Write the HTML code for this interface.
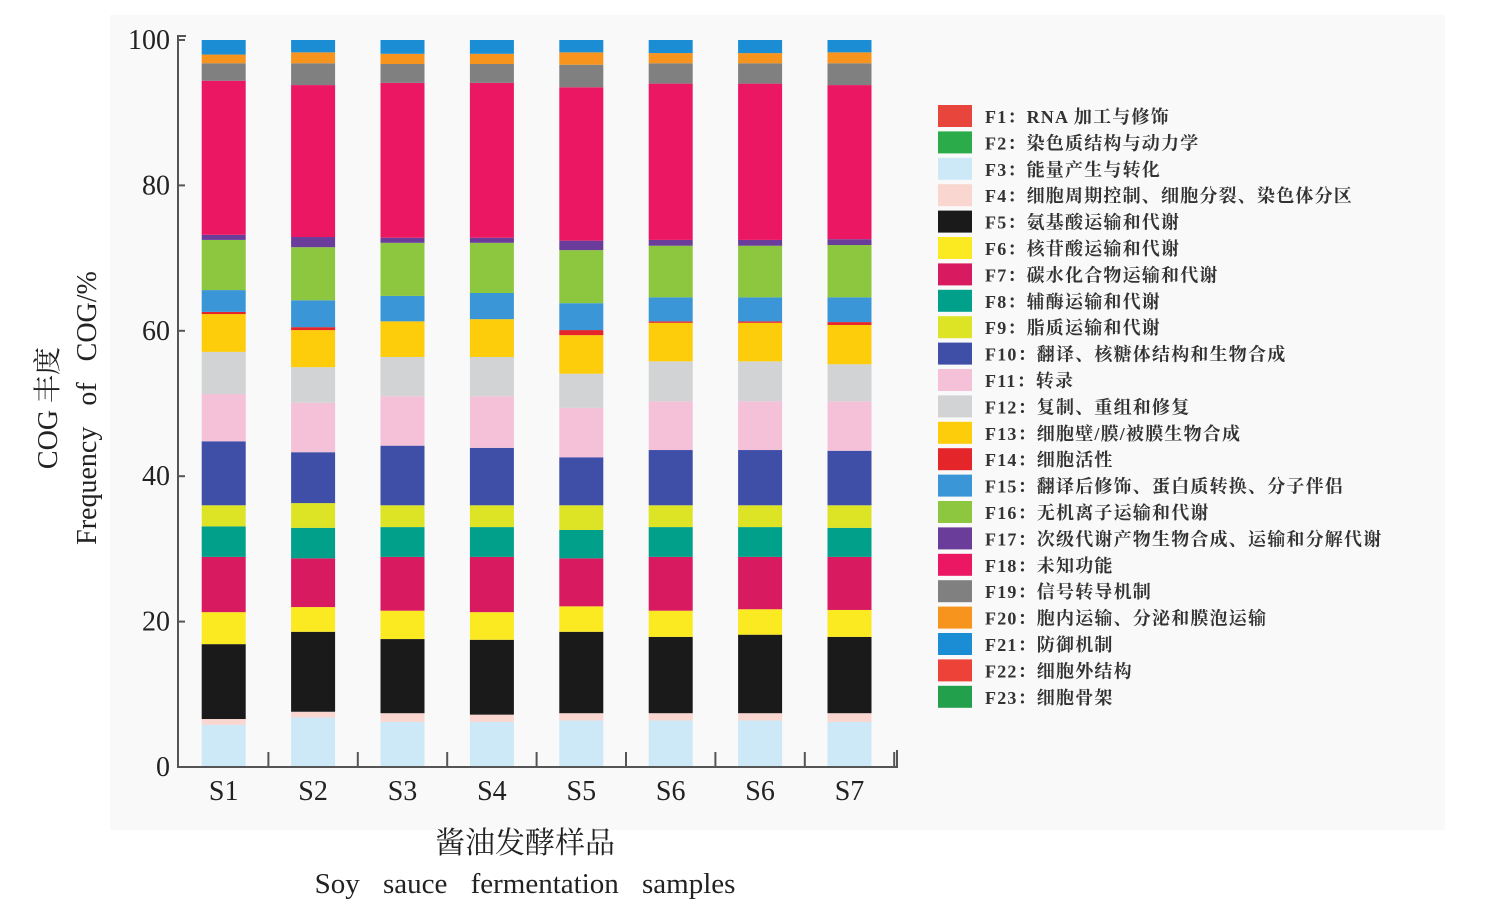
<!DOCTYPE html>
<html><head><meta charset="utf-8"><style>
body{margin:0;background:#fff;}
svg{display:block;font-family:"Liberation Serif","Noto Serif CJK SC",serif;}
</style></head><body>
<svg id="chart" width="1489" height="911" viewBox="0 0 1489 911" xmlns="http://www.w3.org/2000/svg">
<rect x="110" y="15" width="1335" height="815" fill="#f9f9f9"/>
<g id="bars"></g>
<g id="axes"></g>
<g id="legend"></g>
<text x="0" y="0" transform="translate(57,408) rotate(-90)" text-anchor="middle" font-size="28" fill="#222">COG 丰度</text>
<text x="0" y="0" transform="translate(96,408) rotate(-90)" text-anchor="middle" font-size="28" fill="#222" word-spacing="14">Frequency of COG/%</text>
<text x="525" y="853" text-anchor="middle" font-size="30" fill="#222">酱油发酵样品</text>
<text x="525" y="893" text-anchor="middle" font-size="29" fill="#222" word-spacing="16">Soy sauce fermentation samples</text>
</svg>
<script>
const categories = ["S1","S2","S3","S4","S5","S6","S6","S7"];
const seriesNames = ["F1：RNA 加工与修饰","F2：染色质结构与动力学","F3：能量产生与转化","F4：细胞周期控制、细胞分裂、染色体分区","F5：氨基酸运输和代谢","F6：核苷酸运输和代谢","F7：碳水化合物运输和代谢","F8：辅酶运输和代谢","F9：脂质运输和代谢","F10：翻译、核糖体结构和生物合成","F11：转录","F12：复制、重组和修复","F13：细胞壁/膜/被膜生物合成","F14：细胞活性","F15：翻译后修饰、蛋白质转换、分子伴侣","F16：无机离子运输和代谢","F17：次级代谢产物生物合成、运输和分解代谢","F18：未知功能","F19：信号转导机制","F20：胞内运输、分泌和膜泡运输","F21：防御机制","F22：细胞外结构","F23：细胞骨架"];
const F1 = [0,0,0,0,0,0,0,0];
const F2 = [0,0,0,0,0,0,0,0];
const F3 = [5.8,6.8,6.2,6.2,6.4,6.4,6.4,6.2];
const F4 = [0.8,0.8,1.2,1.0,1.0,1.0,1.0,1.2];
const F5 = [10.3,11.0,10.2,10.3,11.2,10.5,10.8,10.5];
const F6 = [4.4,3.4,3.9,3.8,3.5,3.6,3.5,3.7];
const F7 = [7.6,6.7,7.4,7.6,6.6,7.4,7.2,7.3];
const F8 = [4.2,4.2,4.1,4.1,3.9,4.1,4.1,4.0];
const F9 = [2.9,3.4,3.0,3.0,3.4,3.0,3.0,3.1];
const F10 = [8.8,7.0,8.2,7.9,6.6,7.6,7.6,7.5];
const F11 = [6.5,6.8,6.8,7.1,6.8,6.7,6.7,6.8];
const F12 = [5.8,4.9,5.4,5.4,4.7,5.5,5.5,5.1];
const F13 = [5.2,5.1,4.9,5.2,5.3,5.3,5.3,5.4];
const F14 = [0.3,0.4,0,0,0.7,0.2,0.2,0.4];
const F15 = [3.0,3.7,3.5,3.6,3.7,3.3,3.3,3.4];
const F16 = [6.9,7.3,7.3,6.9,7.3,7.1,7.1,7.2];
const F17 = [0.7,1.4,0.7,0.7,1.3,0.8,0.8,0.8];
const F18 = [21.2,20.9,21.3,21.3,21.1,21.5,21.5,21.2];
const F19 = [2.4,3.0,2.6,2.6,3.1,2.8,2.8,3.0];
const F20 = [1.2,1.5,1.4,1.4,1.7,1.4,1.4,1.5];
const F21 = [2.0,1.7,1.9,1.9,1.7,1.8,1.8,1.7];
const F22 = [0,0,0,0,0,0,0,0];
const F23 = [0,0,0,0,0,0,0,0];
const yTicks = [0,20,40,60,80,100];

const series = [F1,F2,F3,F4,F5,F6,F7,F8,F9,F10,F11,F12,F13,F14,F15,F16,F17,F18,F19,F20,F21,F22,F23];
const colors = ["#e8453c","#2bab4a","#cde9f7","#f9d6d0","#1a1a1a","#fbe922","#d81b60","#00a08a","#dde325","#3f4fa8","#f4c1d9","#d1d3d4","#fdcc0a","#e4262a","#3a96d6","#8dc63f","#6a3d9a","#ec1763","#808080","#f7941d","#1a8dd5","#ec4238","#23a04c"];
const NS="http://www.w3.org/2000/svg";
const y0=767, y1=40, xL=178, band=89.4, xStart=179, barW=44;
const yScale = v => y0 - (v/100)*(y0-y1);
const xCenter = i => xStart + band*(i+0.5);
function mk(tag, attrs, parent){const e=document.createElementNS(NS,tag);for(const k in attrs)e.setAttribute(k,attrs[k]);parent.appendChild(e);return e;}
const gb=document.getElementById('bars');
categories.forEach((c,i)=>{
  let cum=0;
  series.forEach((s,j)=>{
    const v=s[i]; if(!v){return;}
    const r=mk('rect',{x:xCenter(i)-barW/2,y:yScale(cum+v),width:barW,height:yScale(cum)-yScale(cum+v),fill:colors[j]},gb);
    
    
    cum+=v;
  });
});
const ga=document.getElementById('axes');
let l=mk('path',{d:`M${xL+8} ${y1-4} H${xL} V${y0} H897 V750`,fill:'none',stroke:'#555','stroke-width':2},ga);


yTicks.forEach(t=>{
  const y=yScale(t);
  const tk=mk('line',{x1:xL,x2:xL+7,y1:y,y2:y,stroke:'#555','stroke-width':2},ga);
  
  
  const tx=mk('text',{x:xL-8,y:y+9,'text-anchor':'end','font-size':28,fill:'#222'},ga);
  tx.textContent=t;
  
  
});
categories.forEach((c,i)=>{
  const xb=xStart+band*(i+1);
  const tk=mk('line',{x1:xb,x2:xb,y1:y0,y2:y0-15,stroke:'#555','stroke-width':2},ga);
  
  
  const tx=mk('text',{x:xCenter(i),y:800,'text-anchor':'middle','font-size':28,fill:'#222'},ga);
  tx.textContent=c;
  
  
});
const gl=document.getElementById('legend');
seriesNames.forEach((n,j)=>{
  const y=105+j*26.4;
  const sw=mk('rect',{x:938,y:y,width:34,height:22,fill:colors[j]},gl);
  
  
  const tx=mk('text',{x:985,y:y+18,'font-size':18,'font-weight':'bold','letter-spacing':1.2,fill:'#333'},gl);
  tx.textContent=n;
  
  
});
</script>
</body></html>
